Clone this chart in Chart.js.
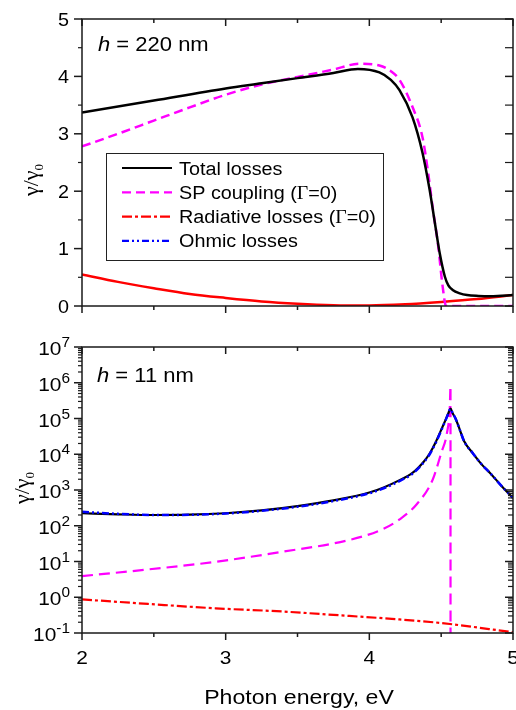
<!DOCTYPE html>
<html>
<head>
<meta charset="utf-8">
<script src="https://cdn.jsdelivr.net/npm/chart.js@4.4.0/dist/chart.umd.min.js"></script>
<style>
  body { margin: 0; background: #fff; overflow: hidden; }
  #wrap { position: relative; width: 516px; height: 710px; }
  canvas { position: absolute; left: 0; }
</style>
</head>
<body>
<div id="wrap">
  <canvas id="topChart" width="516" height="320" style="top:0;width:516px;height:320px"></canvas>
  <canvas id="botChart" width="516" height="390" style="top:320px;width:516px;height:390px"></canvas>
</div>
<script>
// ---- data: h = 220 nm (linear axis) ----
const topTotalE = [2, 2.5, 3, 3.25, 3.5, 3.75, 3.92, 4.07, 4.15, 4.21, 4.3, 4.37, 4.42, 4.456, 4.49, 4.526, 4.55, 4.58, 4.63, 4.68, 4.76, 4.84, 4.92, 5];
const topTotal  = [3.37, 3.58, 3.79, 3.88, 3.97, 4.06, 4.13, 4.07, 3.94, 3.76, 3.29, 2.67, 2.02, 1.45, 0.92, 0.51, 0.36, 0.28, 0.22, 0.19, 0.175, 0.17, 0.18, 0.19];
const topSPE = [2, 2.25, 2.5, 2.75, 3, 3.25, 3.5, 3.75, 3.93, 4.07, 4.15, 4.21, 4.3, 4.37, 4.41, 4.44, 4.48, 4.505, 4.527, 4.535, 4.6, 5];
const topSP  = [2.78, 3.0, 3.23, 3.46, 3.68, 3.86, 3.99, 4.12, 4.22, 4.19, 4.09, 3.94, 3.47, 2.94, 2.31, 1.73, 1.03, 0.45, 0.05, 0, 0, 0];
const topRadE = [2, 2.25, 2.5, 2.75, 3, 3.25, 3.5, 3.75, 4, 4.25, 4.5, 4.75, 5];
const topRad  = [0.55, 0.42, 0.31, 0.21, 0.14, 0.08, 0.04, 0.015, 0.01, 0.03, 0.07, 0.12, 0.19];

// ---- data: h = 11 nm (log axis) ----
const botE      = [2, 2.25, 2.5, 2.75, 3, 3.25, 3.5, 3.75, 4, 4.1, 4.2, 4.3, 4.38, 4.42, 4.46, 4.5, 4.53, 4.55, 4.565, 4.58, 4.6, 4.63, 4.66, 4.72, 4.78, 4.84, 4.92, 5];
const botTotal  = [224, 209, 200, 204, 224, 269, 355, 513, 850, 1180, 1800, 3000, 6300, 10500, 21000, 48000, 90000, 140000, 190000, 140000, 100000, 48000, 23000, 10700, 5300, 3000, 1300, 600];
const botOhmic  = [245, 215, 200, 202, 220, 262, 340, 490, 810, 1120, 1700, 2850, 6000, 10000, 20000, 46000, 88000, 138000, 185000, 140000, 100000, 48000, 23000, 10700, 5300, 3000, 1300, 600];
const botSPE = [2, 2.46, 2.93, 3.39, 3.86, 4.09, 4.21, 4.33, 4.44, 4.5, 4.54, 4.56, 4.565, 4.5652];
const botSP  = [3.9, 6.0, 9.8, 18.6, 40, 79, 150, 400, 1900, 10700, 39000, 200000, 800000, 0.05];
const botRadE = [2, 2.46, 2.93, 3.39, 3.86, 4.09, 4.5, 5];
const botRad  = [0.87, 0.65, 0.49, 0.40, 0.30, 0.26, 0.19, 0.105];

// ---- ticks ----
const xMajor = [2, 3, 4, 5];
const xMinor = [2.5, 3.5, 4.5];
const topYMajor = [0, 1, 2, 3, 4, 5];
const topYMinor = [0.5, 1.5, 2.5, 3.5, 4.5];
const botYExp = [-1, 0, 1, 2, 3, 4, 5, 6, 7];

const legendItems = [
  { label: [['Total losses', 'sans']], color: '#000', dash: [] },
  { label: [['SP coupling (', 'sans'], ['\u0393', 'serif'], ['=0)', 'sans']], color: '#ff00ff', dash: [9, 5] },
  { label: [['Radiative losses (', 'sans'], ['\u0393', 'serif'], ['=0)', 'sans']], color: '#ff0000', dash: [10, 3, 3, 3] },
  { label: [['Ohmic losses', 'sans']], color: '#0000ff', dash: [7, 3, 2, 3, 2, 3] }
];

const SANS = '"Liberation Sans", Arial, sans-serif';
const SERIF = '"Liberation Serif", "Times New Roman", serif';
const AXIS = '#1a1a1a';
const SX = 1.1;

function pts(xs, ys) { return xs.map((x, i) => ({ x: x, y: ys[i] })); }

function ds(data, color, width, dash, order) {
  return {
    data: data, borderColor: color, borderWidth: width, borderDash: dash,
    pointRadius: 0, fill: false, cubicInterpolationMode: 'monotone', order: order
  };
}

function line(ctx, x1, y1, x2, y2) {
  ctx.beginPath(); ctx.moveTo(x1, y1); ctx.lineTo(x2, y2); ctx.stroke();
}

// text runs: [{t, font, dy}], horizontally stretched by sx
function drawRuns(ctx, runs, x, y, align, sx) {
  let w = 0;
  runs.forEach(r => { ctx.font = r.font; w += ctx.measureText(r.t).width * sx; });
  let cx = align === 'right' ? x - w : align === 'center' ? x - w / 2 : x;
  ctx.textAlign = 'left';
  ctx.textBaseline = 'alphabetic';
  runs.forEach(r => {
    ctx.font = r.font;
    ctx.save();
    ctx.translate(cx, y + (r.dy || 0));
    ctx.scale(sx, 1);
    ctx.fillText(r.t, 0, 0);
    ctx.restore();
    cx += ctx.measureText(r.t).width * sx;
  });
}

function frameTicks(chart, yMaj, yMin, minRight) {
  const { ctx, chartArea: a, scales } = chart;
  ctx.save();
  ctx.strokeStyle = AXIS;
  ctx.lineWidth = 1.5;
  ctx.setLineDash([]);
  ctx.strokeRect(a.left, a.top, a.right - a.left, a.bottom - a.top);
  xMajor.forEach(v => {
    const p = scales.x.getPixelForValue(v);
    line(ctx, p, a.bottom, p, a.bottom + 7);
    line(ctx, p, a.top, p, a.top + 7);
  });
  xMinor.forEach(v => {
    const p = scales.x.getPixelForValue(v);
    line(ctx, p, a.bottom, p, a.bottom + 4);
    line(ctx, p, a.top, p, a.top + 4);
  });
  yMaj.forEach(v => {
    const p = scales.y.getPixelForValue(v);
    line(ctx, a.left - 8, p, a.left, p);
    line(ctx, a.right - 8, p, a.right, p);
  });
  ctx.lineWidth = 1.2;
  yMin.forEach(v => {
    const p = scales.y.getPixelForValue(v);
    line(ctx, a.left - 4, p, a.left, p);
    line(ctx, a.right - minRight, p, a.right, p);
  });
  ctx.restore();
}

function yTitle(ctx, cx, cy) {
  ctx.save();
  ctx.fillStyle = '#000';
  ctx.translate(cx, cy);
  ctx.rotate(-Math.PI / 2);
  drawRuns(ctx, [
    { t: '\u03b3/\u03b3', font: '22px ' + SERIF },
    { t: '0', font: '13px ' + SERIF, dy: 5 }
  ], 0, 3, 'center', 1);
  ctx.restore();
}

function drawLegend(ctx) {
  ctx.save();
  ctx.strokeStyle = '#222';
  ctx.lineWidth = 1;
  ctx.setLineDash([]);
  ctx.strokeRect(106.5, 153.5, 277, 107);
  legendItems.forEach((it, i) => {
    const y = 168 + i * 24.3;
    ctx.strokeStyle = it.color;
    ctx.lineWidth = 2.2;
    ctx.setLineDash(it.dash);
    line(ctx, 122, y, 172, y);
    ctx.setLineDash([]);
    ctx.fillStyle = '#000';
    drawRuns(ctx, it.label.map(p => ({ t: p[0], font: '18px ' + (p[1] === 'serif' ? SERIF : SANS) })), 179, y + 6.5, 'left', SX);
  });
  ctx.restore();
}

const topDecor = {
  id: 'topDecor',
  afterDraw(chart) {
    const { ctx, scales } = chart;
    frameTicks(chart, topYMajor, topYMinor, 8);
    ctx.save();
    ctx.fillStyle = '#000';
    topYMajor.forEach(v => {
      const p = scales.y.getPixelForValue(v);
      drawRuns(ctx, [{ t: String(v), font: '18px ' + SANS }], 69, p + 6.5, 'right', SX);
    });
    drawRuns(ctx, [
      { t: 'h', font: 'italic 20px ' + SANS },
      { t: ' = 220 nm', font: '20px ' + SANS }
    ], 98, 51, 'left', SX);
    ctx.restore();
    yTitle(ctx, 35, 180);
    drawLegend(ctx);
  }
};

const botMinor = [];
for (let n = -1; n < 7; n++) {
  for (let k = 2; k <= 9; k++) botMinor.push(k * Math.pow(10, n));
}

const botDecor = {
  id: 'botDecor',
  afterDraw(chart) {
    const { ctx, scales, chartArea: a } = chart;
    frameTicks(chart, botYExp.map(e => Math.pow(10, e)), botMinor, 5);
    ctx.save();
    ctx.fillStyle = '#000';
    botYExp.forEach(e => {
      const p = scales.y.getPixelForValue(Math.pow(10, e));
      drawRuns(ctx, [
        { t: '10', font: '19px ' + SANS },
        { t: String(e), font: '14px ' + SANS, dy: -8 }
      ], 70, p + 8, 'right', SX);
    });
    xMajor.forEach(v => {
      const p = scales.x.getPixelForValue(v);
      drawRuns(ctx, [{ t: String(v), font: '19px ' + SANS }], p, a.bottom + 31, 'center', SX);
    });
    drawRuns(ctx, [{ t: 'Photon energy, eV', font: '21px ' + SANS }], 299, a.bottom + 71, 'center', SX);
    drawRuns(ctx, [
      { t: 'h', font: 'italic 20px ' + SANS },
      { t: ' = 11 nm', font: '20px ' + SANS }
    ], 97, 62, 'left', SX);
    ctx.restore();
    yTitle(ctx, 26, 168);
  }
};

const baseOptions = (yScale, padding) => ({
  responsive: false,
  animation: false,
  events: [],
  layout: { padding: padding },
  plugins: { legend: { display: false }, tooltip: { enabled: false } },
  scales: {
    x: { type: 'linear', min: 2, max: 5, display: false },
    y: yScale
  }
});

new Chart(document.getElementById('topChart'), {
  type: 'line',
  data: {
    datasets: [
      ds(pts(topTotalE, topTotal), '#000000', 2.5, [], 0),
      ds(pts(topSPE, topSP), '#ff00ff', 2.5, [9, 5], 1),
      ds(pts(topRadE, topRad), '#ff0000', 2.5, [], 2)
    ]
  },
  options: baseOptions({ type: 'linear', min: 0, max: 5, display: false },
    { left: 82, right: 3, top: 19, bottom: 14 }),
  plugins: [topDecor]
});

new Chart(document.getElementById('botChart'), {
  type: 'line',
  data: {
    datasets: [
      ds(pts(botE, botOhmic), '#0000ff', 2.5, [7, 3, 2, 3, 2, 3], 0),
      ds(pts(botE, botTotal), '#000000', 2.2, [], 1),
      ds(pts(botSPE, botSP), '#ff00ff', 2.2, [11, 6], 2),
      ds(pts(botRadE, botRad), '#ff0000', 2.2, [10, 3, 3, 3], 3)
    ]
  },
  options: baseOptions({ type: 'logarithmic', min: 0.1, max: 1e7, display: false },
    { left: 82, right: 3, top: 27, bottom: 77 }),
  plugins: [botDecor]
});
</script>
</body>
</html>
